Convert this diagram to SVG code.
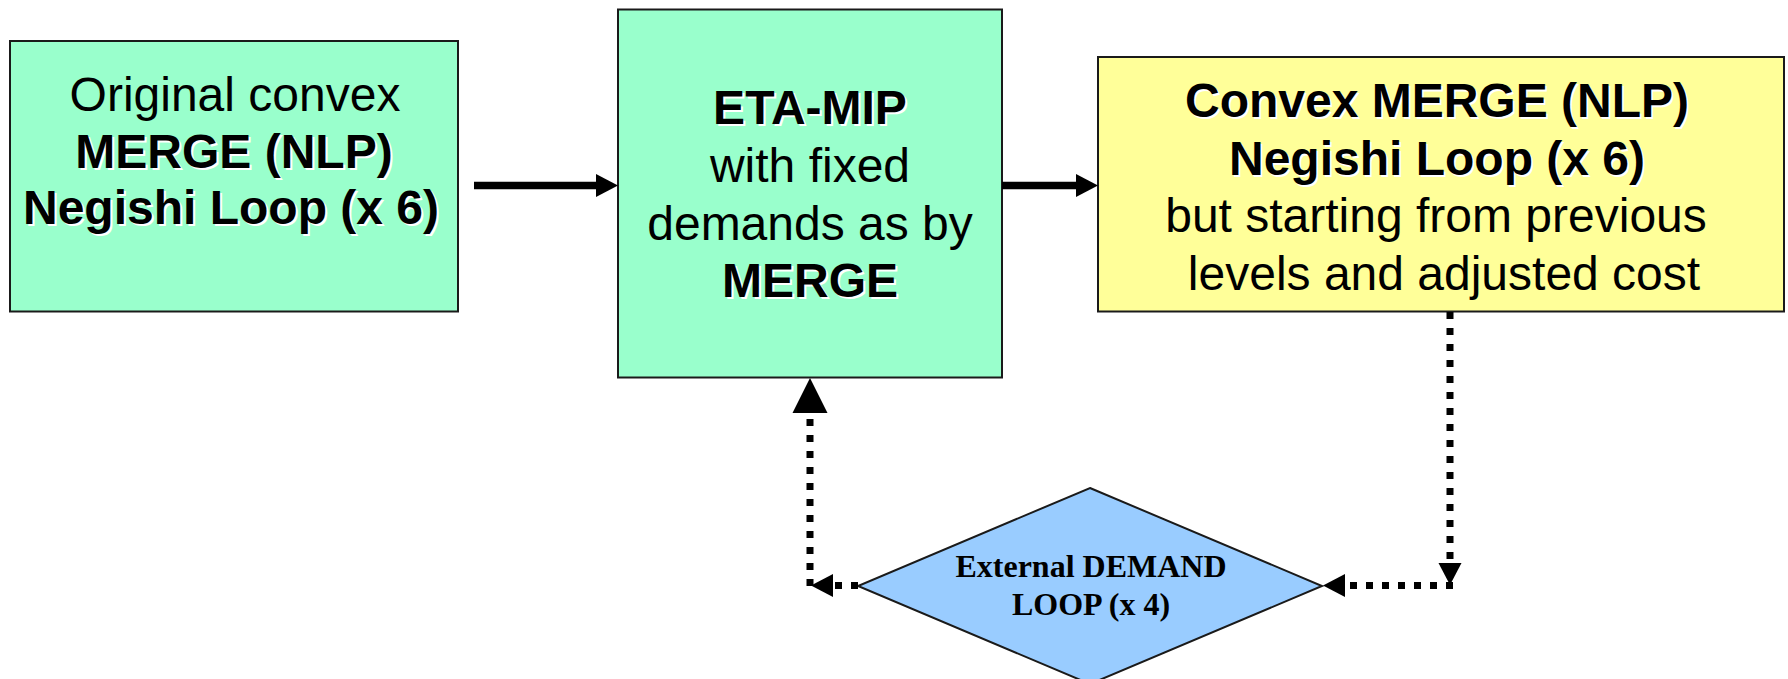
<svg xmlns="http://www.w3.org/2000/svg" width="1788" height="679" viewBox="0 0 1788 679">
  <style>
    .box { stroke: #1a1a1a; stroke-width: 2; }
    .green { fill: #99FFCC; }
    .yellow { fill: #FFFF99; }
    .blue { fill: #99CCFF; }
    .t { font-family: "Liberation Sans", Arial, sans-serif; font-size: 48px; fill: #000; text-anchor: middle; }
    .b { font-weight: bold; }
    .sh { fill: #fff; }
    .dt { font-family: "Liberation Serif", "Times New Roman", serif; font-size: 32px; font-weight: bold; fill: #000; text-anchor: middle; }
    .solid { stroke: #000; stroke-width: 7.5; fill: none; }
    .dots { stroke: #000; stroke-width: 7; stroke-dasharray: 7 9; stroke-linecap: butt; fill: none; }
  </style>
  <defs>
    <marker id="head" markerUnits="userSpaceOnUse" markerWidth="24" markerHeight="26" refX="0" refY="13" orient="auto" overflow="visible">
      <path d="M0,1.5 L22,13 L0,24.5 Z" fill="#000"/>
    </marker>
    <marker id="headLarge" markerUnits="userSpaceOnUse" markerWidth="36" markerHeight="36" refX="0" refY="18" orient="auto" overflow="visible">
      <path d="M0,0.5 L35,18 L0,35.5 Z" fill="#000"/>
    </marker>
  </defs>

  <g id="node-merge-original">
    <rect class="box green" x="10" y="41" width="448" height="270.5"/>
    <text class="t" x="235" y="111">Original convex</text>
    <text class="t b sh" x="236" y="170">MERGE (NLP)</text>
    <text class="t b" x="234" y="168">MERGE (NLP)</text>
    <text class="t b sh" x="233" y="226">Negishi Loop (x 6)</text>
    <text class="t b" x="231" y="224">Negishi Loop (x 6)</text>
  </g>

  <g id="node-eta-mip">
    <rect class="box green" x="618" y="9.5" width="384" height="368"/>
    <text class="t b sh" x="812" y="126">ETA-MIP</text>
    <text class="t b" x="810" y="124">ETA-MIP</text>
    <text class="t" x="810" y="182">with fixed</text>
    <text class="t" x="810" y="240">demands as by</text>
    <text class="t b sh" x="812" y="299">MERGE</text>
    <text class="t b" x="810" y="297">MERGE</text>
  </g>

  <g id="node-merge-convex">
    <rect class="box yellow" x="1098" y="57" width="686" height="254.5"/>
    <text class="t b sh" x="1439" y="119">Convex MERGE (NLP)</text>
    <text class="t b" x="1437" y="117">Convex MERGE (NLP)</text>
    <text class="t b sh" x="1439" y="177">Negishi Loop (x 6)</text>
    <text class="t b" x="1437" y="175">Negishi Loop (x 6)</text>
    <text class="t" x="1436" y="232">but starting from previous</text>
    <text class="t" x="1444" y="290">levels and adjusted cost</text>
  </g>

  <g id="node-demand-loop">
    <polygon class="box blue" points="1090,488 1322,586 1090,684 858,586"/>
    <text class="dt" x="1091" y="577">External DEMAND</text>
    <text class="dt" x="1091" y="615">LOOP (x 4)</text>
  </g>

  <g id="connectors">
    <line class="solid" x1="474" y1="185.5" x2="596" y2="185.5" marker-end="url(#head)"/>
    <line class="solid" x1="1002" y1="185.5" x2="1076" y2="185.5" marker-end="url(#head)"/>
    <line class="dots" x1="1450" y1="312" x2="1450" y2="563" marker-end="url(#head)"/>
    <line class="dots" x1="1453" y1="585.5" x2="1345" y2="585.5" marker-end="url(#head)"/>
    <line class="dots" x1="858" y1="585.5" x2="833" y2="585.5" marker-end="url(#head)"/>
    <line class="dots" x1="810" y1="586" x2="810" y2="413" marker-end="url(#headLarge)"/>
  </g>
</svg>
